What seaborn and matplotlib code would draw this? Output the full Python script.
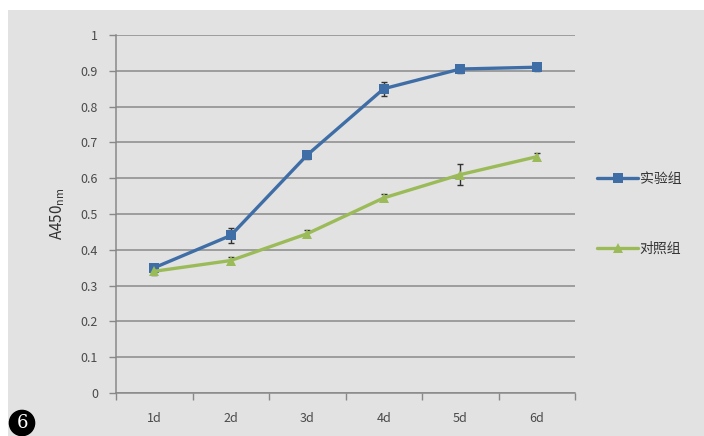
import numpy as np
import pandas as pd
import matplotlib
matplotlib.use("Agg")
import matplotlib.pyplot as plt
import seaborn as sns
from matplotlib.patches import Rectangle

# values
days = ["1d", "2d", "3d", "4d", "5d", "6d"]
exp_vals = [0.35, 0.44, 0.665, 0.85, 0.905, 0.91]
exp_err = [0.01, 0.02, 0.01, 0.02, 0.01, 0.01]
ctrl_vals = [0.34, 0.37, 0.445, 0.545, 0.61, 0.66]
ctrl_err = [0.01, 0.01, 0.01, 0.01, 0.03, 0.01]
series_names = ["实验组", "对照组"]
y_ticks = [0, 0.1, 0.2, 0.3, 0.4, 0.5, 0.6, 0.7, 0.8, 0.9, 1]

sns.set_theme(style="white")
plt.rcParams["font.family"] = ["Noto Sans CJK SC", "DejaVu Sans"]

blue = "#3f6ea6"
green = "#9bbb59"
bg = "#e2e2e2"

df = pd.DataFrame({
    "day": days * 2,
    "x": list(range(len(days))) * 2,
    "A450": exp_vals + ctrl_vals,
    "group": [series_names[0]] * len(days) + [series_names[1]] * len(days),
})

fig = plt.figure(figsize=(7.04, 4.36), dpi=100, facecolor="white")
fig.patches.append(Rectangle((8 / 704, 0), 1, 1 - 10 / 436, transform=fig.transFigure,
                             facecolor=bg, edgecolor="none", zorder=-10))
ax = fig.add_axes([116 / 704, 1 - 393 / 436, (575 - 116) / 704, (393 - 35) / 436])
ax.set_facecolor(bg)

xs = np.arange(len(days))
ax.errorbar(xs, exp_vals, yerr=exp_err, fmt="none", ecolor="#333333",
            elinewidth=1, capsize=2.5, zorder=1)
ax.errorbar(xs, ctrl_vals, yerr=ctrl_err, fmt="none", ecolor="#333333",
            elinewidth=1, capsize=2.5, zorder=1)

sns.lineplot(data=df, x="x", y="A450", hue="group", style="group",
             palette=[blue, green], markers=["s", "^"], dashes=False,
             linewidth=2.4, markersize=6.5, markeredgewidth=0, ax=ax, legend=True,
             zorder=3)

ax.set_xlim(-0.5, 5.5)
ax.set_ylim(0, 1)
ax.set_yticks(y_ticks)
ax.set_yticklabels([f"{v:g}" for v in y_ticks])
ax.set_xticks(xs)
ax.set_xticklabels(days)
ax.set_xticks(np.arange(-0.5, 6, 1), minor=True)
ax.tick_params(axis="x", which="major", length=0, pad=14, labelsize=9, colors="#4a4a4a")
ax.tick_params(axis="x", which="minor", length=5, color="#888888", width=1, bottom=True)
ax.tick_params(axis="y", length=5, color="#888888", width=1, left=True, pad=8,
               labelsize=9, labelcolor="#4a4a4a")

ax.yaxis.grid(True, color="#8a8a8a", linewidth=1.1)
ax.set_axisbelow(True)
for side in ["top", "right"]:
    ax.spines[side].set_visible(False)
ax.spines["left"].set_color("#888888")
ax.spines["bottom"].set_color("#888888")
ax.spines["left"].set_linewidth(1.1)
ax.spines["bottom"].set_linewidth(1.1)

ax.set_xlabel("")
ax.set_ylabel("A450$_{\\mathregular{nm}}$", fontsize=11, color="#333333", labelpad=10)

handles, labels = ax.get_legend_handles_labels()
ax.legend(handles, labels, loc="center left", bbox_to_anchor=(1.02, 0.5),
          frameon=False, fontsize=10, labelspacing=4.0, handlelength=3,
          handletextpad=0.1, labelcolor="#333333")

fig.text(22 / 704, 1 - 423 / 436, "6", fontsize=13, color="white", ha="center", va="center",
         family="DejaVu Serif",
         bbox=dict(boxstyle="circle,pad=0.2", facecolor="black", edgecolor="black"))

fig.savefig("out.png", dpi=100, facecolor="white")
